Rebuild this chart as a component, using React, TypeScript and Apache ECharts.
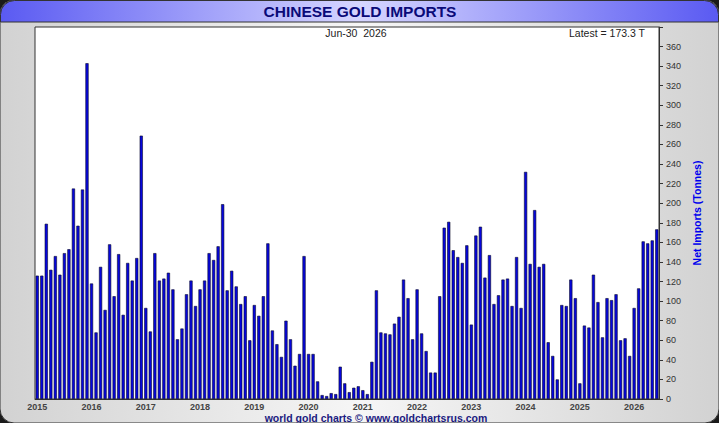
import React, { useEffect, useRef } from "react";
import * as echarts from "echarts";

// Monthly net imports (tonnes)
const imports2015 = [126, 126, 179, 132, 146, 127, 149, 153, 215, 177, 214, 343];
const imports2016 = [118, 68, 135, 91, 158, 105, 148, 86, 139, 121, 144, 269];
const imports2017 = [93, 69, 149, 121, 123, 129, 112, 61, 72, 107, 121, 95];
const imports2018 = [112, 121, 149, 142, 156, 199, 111, 131, 115, 97, 105, 60];
const imports2019 = [96, 85, 105, 159, 70, 56, 43, 80, 61, 34, 46, 146];
const imports2020 = [46, 46, 18, 4, 3, 6, 5, 33, 16, 7, 11.5, 13];
const imports2021 = [9, 5, 38, 111, 68, 67, 66, 77, 84, 122, 103, 61];
const imports2022 = [112, 67, 49, 27, 27, 105, 175, 181, 152, 145, 139, 157];
const imports2023 = [76, 167, 176, 124, 147, 97, 106, 122, 123, 95, 145, 93];
const imports2024 = [232, 138, 193, 135, 138, 58, 44, 20, 96, 95, 122, 103];
const imports2025 = [16, 75, 73, 127, 99, 63, 103, 101, 107, 60, 62, 44];
const imports2026 = [93, 113, 161, 159, 162, 173.3];

const yearly = [
  imports2015, imports2016, imports2017, imports2018, imports2019, imports2020,
  imports2021, imports2022, imports2023, imports2024, imports2025, imports2026,
];
const firstYear = 2015;
const monthNames = ["01", "02", "03", "04", "05", "06", "07", "08", "09", "10", "11", "12"];

const categories: string[] = [];
const values: number[] = [];
yearly.forEach((arr, yi) => {
  arr.forEach((v, mi) => {
    categories.push(`${firstYear + yi}-${monthNames[mi]}`);
    values.push(v);
  });
});

const yTicksMax = 380;
const yInterval = 20;
const dateText = "Jun-30  2026";
const latestText = "Latest = 173.3 T";
const titleText = "CHINESE GOLD IMPORTS";
const footerText = "world gold charts \u00a9 www.goldchartsrus.com";
const axisName = "Net Imports (Tonnes)";

const FONT = "'Liberation Sans', Arial, sans-serif";

export default function App() {
  const ref = useRef<HTMLDivElement>(null);
  useEffect(() => {
    if (!ref.current) return;
    const chart = echarts.init(ref.current, undefined, { renderer: "svg" });
    const W = 719;
    const H = 423;
    chart.setOption({
      animation: false,
      backgroundColor: "#1a1a1a",
      textStyle: { fontFamily: FONT },
      grid: {
        left: 35,
        right: 60,
        top: 27,
        bottom: 24,
        show: true,
        backgroundColor: "#ffffff",
        borderColor: "#333333",
        borderWidth: 1,
        z: 1,
      },
      graphic: [
        {
          type: "rect",
          z: -10,
          silent: true,
          shape: { x: 0, y: 0, width: W, height: H, r: 14 },
          style: {
            fill: new echarts.graphic.LinearGradient(0, 0, 1, 0, [
              { offset: 0, color: "#d2d2d2" },
              { offset: 0.5, color: "#f6f6f6" },
              { offset: 1, color: "#d2d2d2" },
            ]),
            stroke: "#333",
            lineWidth: 1,
          },
        },
        {
          type: "rect",
          z: -9,
          silent: true,
          shape: { x: 0.5, y: 0.5, width: W - 1, height: 21.5, r: [14, 14, 0, 0] },
          style: {
            fill: new echarts.graphic.LinearGradient(0, 0, 1, 0, [
              { offset: 0, color: "#5a5af2" },
              { offset: 0.5, color: "#d6d6ff" },
              { offset: 1, color: "#5a5af2" },
            ]),
            stroke: "#333",
            lineWidth: 1,
          },
        },
        {
          type: "text",
          z: 10,
          silent: true,
          style: {
            text: titleText,
            x: 360,
            y: 11.5,
            align: "center",
            verticalAlign: "middle",
            fill: "#0a0a78",
            font: `bold 15.5px ${FONT}`,
          },
        },
        {
          type: "text",
          z: 10,
          silent: true,
          style: {
            text: dateText,
            x: 356,
            y: 33,
            align: "center",
            verticalAlign: "middle",
            fill: "#222",
            font: `10.5px ${FONT}`,
          },
        },
        {
          type: "text",
          z: 10,
          silent: true,
          style: {
            text: latestText,
            x: 645,
            y: 33,
            align: "right",
            verticalAlign: "middle",
            fill: "#222",
            font: `10.5px ${FONT}`,
          },
        },
        {
          type: "text",
          z: 10,
          silent: true,
          style: {
            text: footerText,
            x: 376,
            y: 418,
            align: "center",
            verticalAlign: "middle",
            fill: "#1a1a80",
            font: `bold 10.5px ${FONT}`,
          },
        },
      ],
      xAxis: {
        type: "category",
        data: categories,
        boundaryGap: true,
        axisLine: { show: true, lineStyle: { color: "#333", width: 1 } },
        axisTick: { show: false },
        axisLabel: {
          interval: (i: number) => i % 12 === 0,
          formatter: (v: string) => v.slice(0, 4),
          color: "#444",
          fontSize: 9,
          fontWeight: "bold",
          margin: 3,
          lineHeight: 10,
          fontFamily: FONT,
        },
        splitLine: {
          show: true,
          alignWithLabel: true,
          interval: (i: number) => i % 12 === 0 && i > 0,
          lineStyle: { color: "#dcecf8", width: 1 },
        },
      },
      yAxis: {
        type: "value",
        position: "right",
        min: 0,
        max: yTicksMax,
        interval: yInterval,
        name: axisName,
        nameLocation: "middle",
        nameRotate: 90,
        nameGap: 32,
        nameTextStyle: {
          color: "#0000ee",
          fontWeight: "bold",
          fontSize: 10.5,
          fontFamily: FONT,
        },
        axisLine: { show: true, lineStyle: { color: "#333", width: 1 } },
        axisTick: { show: true, length: 4, lineStyle: { color: "#333" } },
        axisLabel: {
          color: "#333",
          fontSize: 9,
          margin: 7,
          fontFamily: FONT,
          formatter: (v: number) => (v >= yTicksMax ? "" : String(v)),
        },
        splitLine: { show: true, lineStyle: { color: "#dcecf8", width: 1 } },
      },
      series: [
        {
          type: "bar",
          data: values,
          barCategoryGap: "30%",
          itemStyle: {
            color: "#0606dc",
            borderColor: "#0a0a2a",
            borderWidth: 0.6,
          },
          silent: true,
        },
      ],
    });
    return () => chart.dispose();
  }, []);
  return (
    <div
      ref={ref}
      style={{ position: "absolute", left: 0, top: 0, width: 719, height: 423 }}
    />
  );
}
